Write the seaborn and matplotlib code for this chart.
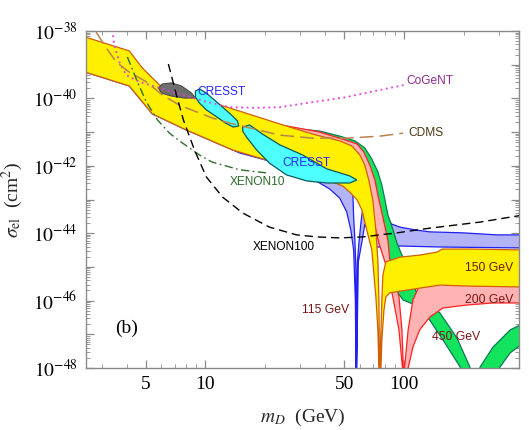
import numpy as np
import matplotlib
matplotlib.use('Agg')
import matplotlib.pyplot as plt
from matplotlib.ticker import FixedLocator, NullFormatter
import seaborn as sns

# all masses in GeV, cross sections given as log10(sigma / cm^2)

# exclusion curves
cogent_m = [3.39, 3.47, 3.68, 3.99, 4.64, 5.66, 6.81, 8.30, 10.8, 13.2, 18.1, 23.7, 34.7, 51.5, 75.7, 101]
cogent_s = [-37.97, -38.42, -38.92, -39.31, -39.51, -39.66, -39.81, -39.96, -40.14, -40.26, -40.28, -40.26, -40.11, -39.96, -39.75, -39.60]

cdms_m = [2.81, 3.16, 3.55, 4.13, 5.04, 6.07, 7.39, 9.01, 10.8, 13.2, 23.7, 34.7, 51.5, 75.7, 98.9]
cdms_s = [-38.03, -38.50, -38.92, -39.22, -39.51, -39.90, -40.20, -40.40, -40.58, -40.73, -41.09, -41.18, -41.18, -41.12, -41.03]

xenon10_m = [4.04, 4.54, 5.04, 5.73, 6.58, 7.39, 8.30, 9.33, 10.8, 14.9, 20.3]
xenon10_s = [-38.77, -39.51, -40.11, -40.64, -41.03, -41.26, -41.47, -41.68, -41.89, -42.12, -42.21]

xenon100_m = [6.5, 7.14, 7.74, 8.80, 10.1, 12.2, 15.4, 21.0, 28.8, 36.4, 47.5, 62.1, 92.2, 135, 242, 399]
xenon100_s = [-38.98, -39.90, -40.64, -41.53, -42.33, -42.93, -43.40, -43.82, -44.05, -44.11, -44.14, -44.11, -43.99, -43.85, -43.67, -43.46]

# signal regions
grey_m = [5.79, 6.07, 6.73, 7.56, 8.50, 8.90, 7.83, 6.73, 6.00]
grey_s = [-39.69, -39.57, -39.54, -39.63, -39.84, -39.99, -39.99, -39.93, -39.84]

cresst1_m = [8.90, 9.33, 10.1, 11.1, 12.2, 13.5, 14.5, 14.7, 13.8, 12.6, 11.4, 10.1, 9.33, 8.90]
cresst1_s = [-39.78, -39.72, -39.84, -40.05, -40.26, -40.49, -40.67, -40.82, -40.85, -40.73, -40.55, -40.34, -40.14, -39.96]

cresst2_m = [15.4, 16.7, 19.4, 23.7, 30.9, 40.8, 53.3, 57.9, 53.3, 40.8, 32.4, 25.6, 21.0, 18.1, 16.1, 15.4]
cresst2_s = [-40.85, -40.79, -41.06, -41.38, -41.68, -42.09, -42.30, -42.42, -42.51, -42.51, -42.45, -42.27, -41.92, -41.53, -41.15, -40.97]

# Higgs-mass bands: upper and lower edges
b115_hi_m = [2.48, 4.13, 4.81, 5.86, 9.01, 13.2, 23.7, 34.7, 47.5, 53.3, 55.2, 55.8, 56.6, 57.3, 57.4, 57.5, 57.7,
             58.3, 59.3, 60.7, 62.8, 65.8, 73.9, 80.2, 82.0, 83.0, 86.9, 95.5, 116, 135, 199, 295, 433]
b115_hi_s = [-38.27, -38.68, -39.19, -39.69, -40.08, -40.37, -40.85, -41.15, -41.38, -42.42, -42.72, -43.52, -44.20,
             -45.09, -48.0, -48.6, -48.0, -44.85, -44.29, -43.70, -43.01, -42.57, -42.57, -43.16, -43.37, -43.61,
             -43.73, -43.82, -43.91, -43.96, -43.99, -44.05, -44.05]
b115_lo_m = [2.48, 4.13, 5.40, 7.83, 13.7, 14.9, 21.0, 29.9, 34.7, 42.3, 47.5, 51.5, 54.0, 55.8, 56.9, 57.3, 57.5,
             57.8, 58.9, 61.4, 63.5, 65.8, 71.4, 80.2, 95.5, 152, 433]
b115_lo_s = [-39.22, -39.63, -40.46, -40.91, -41.53, -41.62, -41.86, -42.21, -42.39, -42.69, -42.96, -43.37, -43.91,
             -44.50, -45.98, -48.0, -50.0, -48.0, -44.85, -44.26, -43.73, -43.91, -44.41, -44.41, -44.38, -44.41, -44.44]

y150_hi_m = [2.48, 4.13, 4.81, 5.86, 9.01, 13.2, 23.7, 34.7, 47.5, 54.6, 60.0, 63.5, 66.5, 69.7, 72.2, 73.9, 74.8,
             75.3, 75.4, 75.6, 76.6, 77.4, 78.3, 81.1, 95.5, 120, 147, 156, 215, 433]
y150_hi_s = [-38.18, -38.59, -39.10, -39.60, -39.99, -40.28, -40.76, -41.06, -41.26, -41.41, -41.68, -41.98, -42.42,
             -43.01, -43.91, -44.80, -45.98, -48.0, -49.0, -48.0, -46.87, -45.98, -45.24, -44.85, -44.71, -44.65,
             -44.56, -44.47, -44.47, -44.50]
y150_lo_m = [2.48, 4.13, 5.40, 7.83, 13.7, 20.3, 29.9, 34.7, 42.3, 49.2, 53.3, 58.0, 61.4, 65.0, 68.9, 72.2, 73.9,
             74.8, 75.3, 76.6, 77.4, 79.3, 81.1, 84.9, 95.5, 120, 152, 215, 433]
y150_lo_s = [-39.22, -39.63, -40.46, -40.91, -41.53, -41.83, -42.21, -42.30, -42.45, -42.60, -42.78, -43.01, -43.31,
             -43.91, -44.50, -45.89, -46.87, -48.0, -50.0, -48.0, -47.17, -46.28, -45.89, -45.77, -45.72, -45.63,
             -45.54, -45.57, -45.60]

p200_hi_m = [2.48, 4.13, 4.81, 5.86, 9.01, 13.2, 23.7, 37.7, 50.4, 58.0, 62.8, 67.3, 71.4, 73.9, 78.3, 83.0, 84.9,
             90.1, 94.4, 97.7, 99.3, 100, 100.7, 105, 111, 120, 152, 433]
p200_hi_s = [-38.21, -38.62, -39.13, -39.63, -40.02, -40.31, -40.78, -41.00, -41.23, -41.35, -41.59, -41.98, -42.42,
             -42.87, -43.52, -44.20, -44.80, -45.39, -45.89, -46.87, -48.0, -48.8, -48.0, -46.87, -45.98, -45.54,
             -45.33, -45.27]
p200_lo_m = [2.48, 4.13, 5.40, 7.83, 13.7, 29.9, 53.3, 65.0, 69.7, 74.8, 81.1, 87.9, 94.4, 98.3, 100, 105, 111, 120,
             135, 157, 208, 281, 433]
p200_lo_s = [-39.16, -39.57, -40.40, -40.85, -41.47, -42.12, -42.42, -42.72, -43.52, -44.29, -44.94, -45.89, -46.87,
             -48.0, -50.0, -48.0, -47.38, -46.87, -46.49, -46.22, -46.13, -46.07, -46.07]

g450_hi_m = [2.48, 4.13, 4.81, 5.86, 9.01, 13.2, 23.7, 29.9, 37.7, 47.5, 56.6, 63.5, 68.9, 73.9, 77.4, 80.2, 83.0,
             86.9, 92.2, 97.7, 107, 116, 152, 185, 215, 226, 242, 281, 343, 433]
g450_hi_s = [-38.24, -38.65, -39.16, -39.66, -40.05, -40.34, -40.80, -40.91, -40.97, -41.12, -41.26, -41.47, -41.80,
             -42.18, -42.57, -43.01, -43.46, -43.79, -44.29, -44.65, -45.24, -45.77, -46.37, -47.11, -47.97, -48.6,
             -47.97, -47.38, -46.87, -46.58]
g450_lo_m = [2.48, 4.13, 7.83, 13.7, 29.9, 60.0, 68.9, 73.9, 79.3, 84.9, 91.1, 98.9, 114, 135, 161, 192, 226, 305,
             343, 433]
g450_lo_s = [-39.16, -39.57, -40.85, -41.47, -42.12, -42.27, -42.57, -43.16, -44.05, -44.94, -45.69, -45.98, -46.13,
             -46.58, -47.26, -47.97, -50.0, -47.97, -47.55, -47.11]

sns.set_style('ticks')
plt.rcParams['font.family'] = ['Liberation Serif', 'DejaVu Serif']
plt.rcParams['mathtext.fontset'] = 'stix'

fig = plt.figure(figsize=(5.29, 4.30), dpi=100)
ax = fig.add_axes([86 / 529, 62 / 430, 433 / 529, 337 / 430])
ax.set(xscale='log', yscale='log')


def band(hm, hs, lm, ls, face, edge):
    xs = list(hm) + list(lm)[::-1]
    ys = [10.0 ** v for v in list(hs) + list(ls)[::-1]]
    ax.fill(xs, ys, facecolor=face, edgecolor=edge, lw=0.9, zorder=2)


band(b115_hi_m, b115_hi_s, b115_lo_m, b115_lo_s, '#b3b3f7', '#2020f0')
band(g450_hi_m, g450_hi_s, g450_lo_m, g450_lo_s, '#14e35e', '#0a7a55')
band(p200_hi_m, p200_hi_s, p200_lo_m, p200_lo_s, '#ffb3b3', '#ff2020')
band(y150_hi_m, y150_hi_s, y150_lo_m, y150_lo_s, '#fff000', '#d0600a')

ax.fill(grey_m, [10.0 ** v for v in grey_s], facecolor='#6e6e6e', edgecolor='#4a4a4a', lw=0.8, zorder=3)
ax.fill(cresst1_m, [10.0 ** v for v in cresst1_s], facecolor='#4dffff', edgecolor='#0a5a5a', lw=0.9, zorder=3)
ax.fill(cresst2_m, [10.0 ** v for v in cresst2_s], facecolor='#4dffff', edgecolor='#0a5a5a', lw=0.9, zorder=3)

lines = [
    (cogent_m, cogent_s, '#e040e0', (0, (1, 2)), 1.3),
    (cdms_m, cdms_s, '#b8844a', (0, (9, 4)), 1.1),
    (xenon10_m, xenon10_s, '#2e6e2e', (0, (6, 2.5, 1.2, 2.5)), 1.0),
    (xenon100_m, xenon100_s, 'black', (0, (6, 3.5)), 1.0),
]
for m, s, c, ls, lw in lines:
    sns.lineplot(x=m, y=[10.0 ** v for v in s], ax=ax, color=c, linestyle=ls, lw=lw,
                 estimator=None, sort=False, zorder=4)

ax.set_xlim(2.5, 380)
ax.set_ylim(1e-48, 1e-38)

sans = 'Liberation Sans'
ax.text(103, 10 ** -39.48, 'CoGeNT', color='#8e2a8e', family=sans, fontsize=8.6, va='center')
ax.text(105, 10 ** -41.03, 'CDMS', color='#4a3a14', family=sans, fontsize=8.6, va='center')
ax.text(9.11, 10 ** -39.81, 'CRESST', color='#2626ff', family=sans, fontsize=8.6, va='center', zorder=5)
ax.text(24.5, 10 ** -41.92, 'CRESST', color='#2626ff', family=sans, fontsize=8.6, va='center', zorder=5)
ax.text(13.2, 10 ** -42.48, 'XENON10', color='#2d6a2d', family=sans, fontsize=8.6, va='center')
ax.text(17.3, 10 ** -44.41, 'XENON100', color='black', family=sans, fontsize=8.6, va='center')
ax.text(30.5, 10 ** -46.28, '115 GeV', color='#7a1515', family=sans, fontsize=8.8, va='center')
ax.text(203, 10 ** -45.03, '150 GeV', color='#6b1a10', family=sans, fontsize=8.8, va='center', zorder=5)
ax.text(203, 10 ** -45.98, '200 GeV', color='#7a1515', family=sans, fontsize=8.8, va='center', zorder=5)
ax.text(138, 10 ** -47.08, '450 GeV', color='#7a1515', family=sans, fontsize=8.8, va='center', zorder=5)
ax.text(3.99, 10 ** -46.81, '(b)', color='black', fontsize=14, ha='center', va='center')

# ticks
ax.xaxis.set_major_locator(FixedLocator([5, 10, 50, 100]))
ax.set_xticklabels(['5', '10', '50', '100'])
ax.xaxis.set_minor_locator(FixedLocator([3, 4, 6, 7, 8, 9, 20, 30, 40, 60, 70, 80, 90, 200, 300]))
ax.xaxis.set_minor_formatter(NullFormatter())
dec = list(range(-48, -37))
ax.yaxis.set_major_locator(FixedLocator([10.0 ** d for d in dec]))
ax.set_yticklabels([r'$10^{%d}$' % d if d % 2 == 0 else '' for d in dec])
ax.yaxis.set_minor_locator(FixedLocator([k * 10.0 ** d for d in dec[:-1] for k in range(2, 10)]))
ax.yaxis.set_minor_formatter(NullFormatter())

ax.tick_params(which='both', direction='in', top=True, right=True, colors='#8a8a8a', labelcolor='black',
               labelsize=14, pad=6)
ax.tick_params(which='major', length=6, width=0.9)
ax.tick_params(which='minor', length=3, width=0.6)
for sp in ax.spines.values():
    sp.set_color('#8a8a8a')
    sp.set_linewidth(1.0)

ax.set_xlabel(r'$m_D$  (GeV)', fontsize=14)
ax.set_ylabel(r'$\sigma_{\rm el}$  (cm$^2$)', fontsize=14)
ax.xaxis.set_label_coords(0.5, -0.115)
ax.yaxis.set_label_coords(-0.14, 0.5)

fig.savefig('out.png', dpi=100)
